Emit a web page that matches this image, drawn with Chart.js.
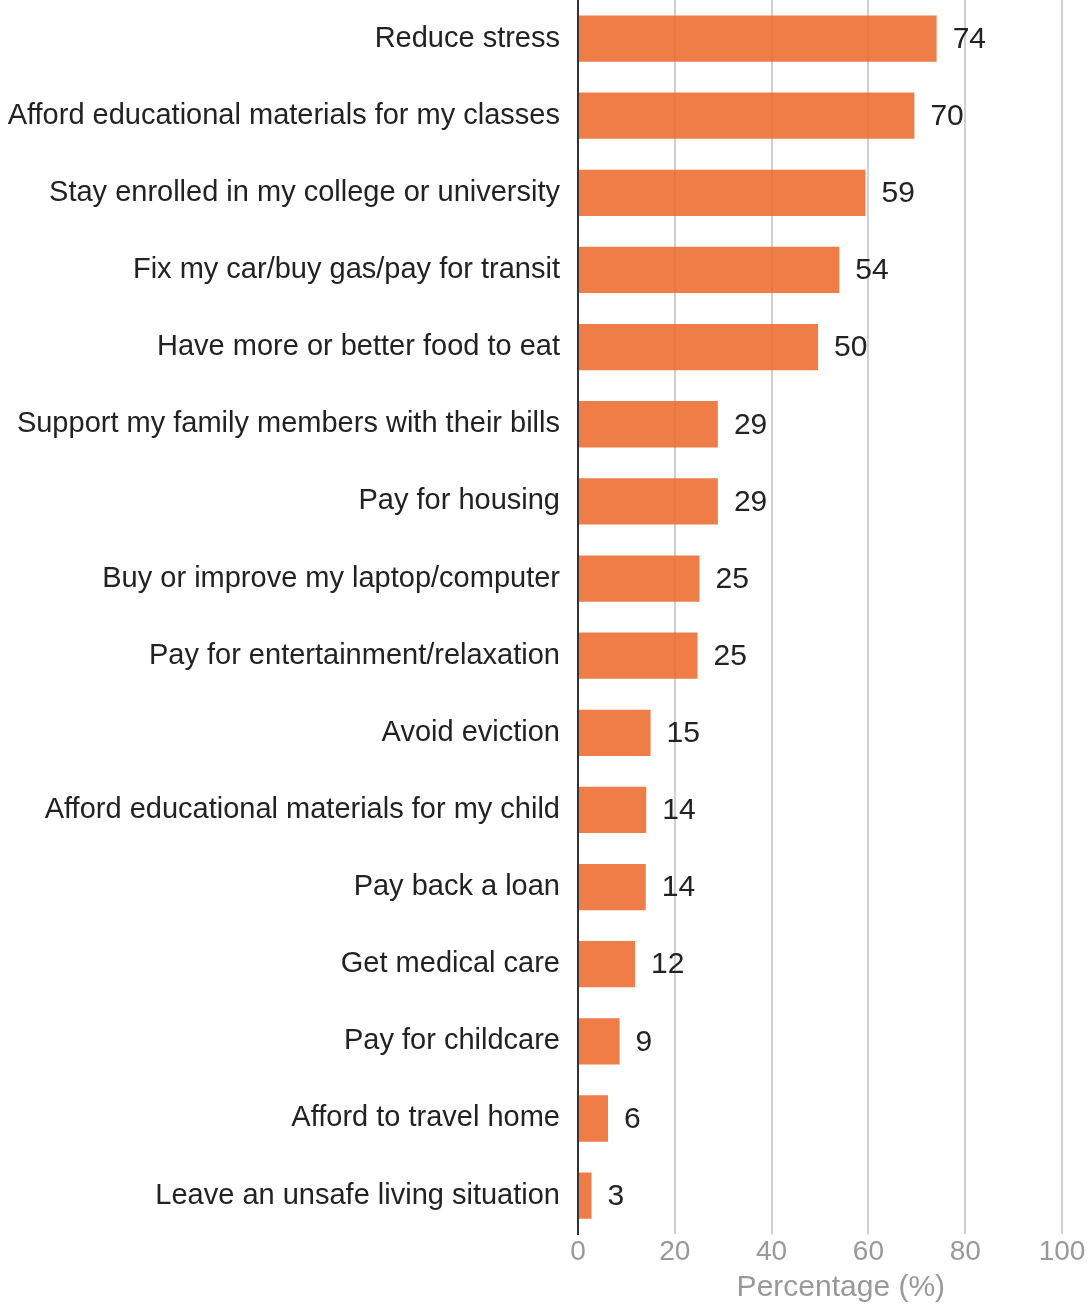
<!DOCTYPE html>
<html>
<head>
<meta charset="utf-8">
<script src="https://cdn.jsdelivr.net/npm/chart.js@4.4.1/dist/chart.umd.min.js"></script>
<style>
  html, body { margin: 0; padding: 0; background: #fff; }
  #wrap { width: 1090px; height: 1304px; position: relative; }
</style>
</head>
<body>
<div id="wrap"><canvas id="chart"></canvas></div>
<script>
// reasons, top to bottom
const reasons = [
  'Reduce stress',
  'Afford educational materials for my classes',
  'Stay enrolled in my college or university',
  'Fix my car/buy gas/pay for transit',
  'Have more or better food to eat',
  'Support my family members with their bills',
  'Pay for housing',
  'Buy or improve my laptop/computer',
  'Pay for entertainment/relaxation',
  'Avoid eviction',
  'Afford educational materials for my child',
  'Pay back a loan',
  'Get medical care',
  'Pay for childcare',
  'Afford to travel home',
  'Leave an unsafe living situation'
];
// percentage of respondents
const percents = [74.1, 69.5, 59.4, 54.0, 49.6, 28.9, 28.9, 25.1, 24.7, 15.0, 14.1, 14.0, 11.8, 8.6, 6.2, 2.8];
// shown value labels
const valueLabels = ['74', '70', '59', '54', '50', '29', '29', '25', '25', '15', '14', '14', '12', '9', '6', '3'];
const xTicks = [0, 20, 40, 60, 80, 100];

const FONT = '"Liberation Sans", Arial, sans-serif';

// value labels at the end of each bar
const barLabels = {
  id: 'barLabels',
  afterDatasetsDraw(chart) {
    const ctx = chart.ctx;
    const meta = chart.getDatasetMeta(0);
    ctx.save();
    ctx.font = '30px ' + FONT;
    ctx.fillStyle = '#222';
    ctx.textAlign = 'left';
    ctx.textBaseline = 'middle';
    meta.data.forEach((bar, i) => {
      ctx.fillText(valueLabels[i], bar.x + 16, bar.y + 1);
    });
    ctx.restore();
  }
};

new Chart(document.getElementById('chart'), {
  type: 'bar',
  data: {
    labels: reasons,
    datasets: [{
      data: percents,
      backgroundColor: 'rgba(236,104,42,0.86)',
      borderWidth: 0,
      barPercentage: 0.6,
      categoryPercentage: 1
    }]
  },
  options: {
    indexAxis: 'y',
    responsive: true,
    maintainAspectRatio: false,
    animation: false,
    layout: { padding: { top: 0, right: 28, bottom: 0, left: 0 } },
    plugins: { legend: { display: false }, tooltip: { enabled: false } },
    scales: {
      x: {
        min: 0, max: 100,
        afterBuildTicks: s => { s.ticks = xTicks.map(v => ({ value: v })); },
        grid: {
          color: c => c.tick && c.tick.value === 0 ? '#333' : '#d0d0d0',
          lineWidth: 2,
          drawTicks: false
        },
        border: { display: false },
        ticks: { color: '#999', font: { family: FONT, size: 28, lineHeight: 1.1 }, padding: 3 },
        title: {
          display: true, text: '     Percentage (%)', color: '#999',
          font: { family: FONT, size: 30, lineHeight: 1.1 }, padding: { top: 0, bottom: 0 }
        }
      },
      y: {
        afterFit: s => { s.width = 578; s.paddingTop = 0; s.paddingBottom = 0; },
        grid: { display: false },
        border: { display: true, color: '#333', width: 2 },
        ticks: { color: '#222', font: { family: FONT, size: 29 }, padding: 10 }
      }
    }
  },
  plugins: [barLabels]
});
</script>
</body>
</html>
